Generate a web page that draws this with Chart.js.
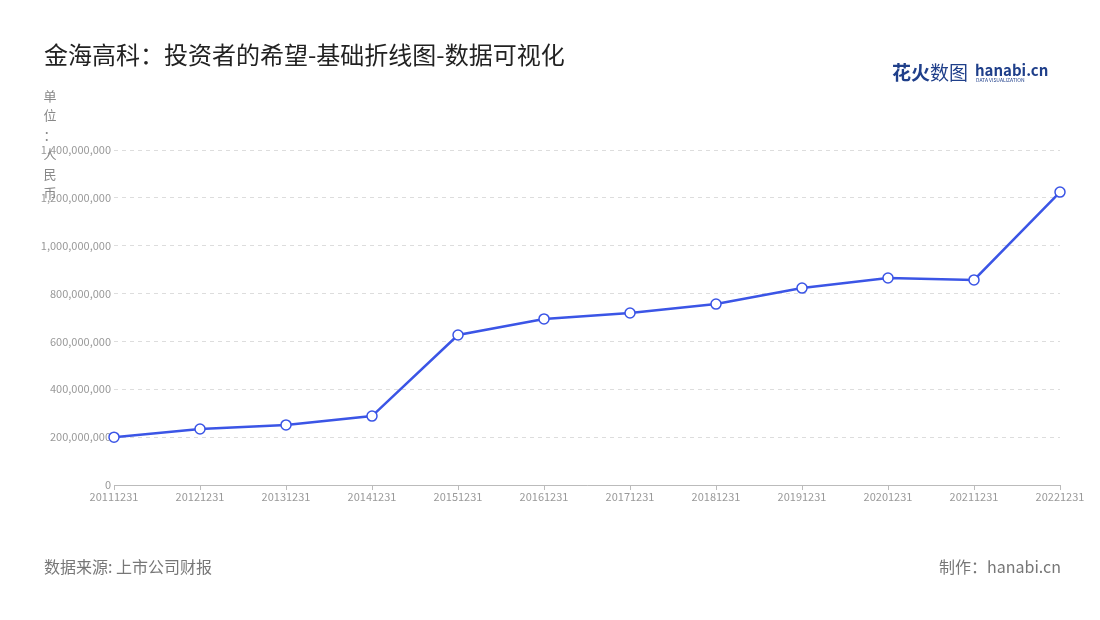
<!DOCTYPE html>
<html><head><meta charset="utf-8">
<script src="https://cdn.jsdelivr.net/npm/chart.js@4/dist/chart.umd.min.js"></script>
<style>html,body{margin:0;padding:0;background:#fff}#w{width:1100px;height:620px}</style>
</head><body><div id="w"><canvas id="c"></canvas></div>
<script>
const categories=["20111231","20121231","20131231","20141231","20151231","20161231","20171231","20181231","20191231","20201231","20211231","20221231"];
const values=[200000000,234000000,251000000,288000000,627000000,694000000,719000000,756000000,823000000,865000000,857000000,1224000000];
const titleText="金海高科：投资者的希望-基础折线图-数据可视化";
const unitChars=["单","位","：","人","民","币"];
const sourceText="数据来源: 上市公司财报";
const makerText="制作：hanabi.cn";
const F='"Noto Sans CJK SC","Noto Sans",sans-serif';
const deco={id:'deco',afterDraw(ch){const c=ch.ctx;c.save();
c.fillStyle='#222';c.font='24px '+F;c.textBaseline='middle';c.fillText(titleText,44,55);
c.fillStyle='#888';c.font='13px '+F;c.textAlign='center';
unitChars.forEach((t,i)=>c.fillText(t,50,96+i*19.5));
c.textAlign='left';c.font='16px '+F;c.fillStyle='#777';c.fillText(sourceText,44,567);
c.textAlign='right';c.fillText(makerText,1061,567);
c.font='bold 19px '+F;c.fillStyle='#1f3f8a';c.textAlign='left';c.fillText('花火',892,73);
c.font='19px '+F;c.fillText('数图',930,73);
c.font='bold 15px '+F;c.fillText('hanabi.cn',975,70);
c.font='5px '+F;c.fillText('DATA VISUALIZATION',976,80);
c.restore();}};
new Chart(document.getElementById('c'),{type:'line',
data:{labels:categories,datasets:[{data:values,borderColor:'#3b55e6',borderWidth:2.5,pointRadius:5,pointBorderWidth:1.5,pointBackgroundColor:'#fff',pointBorderColor:'#3b55e6',tension:0}]},
options:{responsive:true,maintainAspectRatio:false,animation:false,
layout:{padding:{top:150,right:40,left:0,bottom:0}},
plugins:{legend:{display:false},tooltip:{enabled:false}},
scales:{
x:{afterFit(s){s.height=135},offset:false,grid:{drawOnChartArea:false,drawTicks:true,tickLength:5,color:'#bbb'},border:{color:'#bbb'},
ticks:{color:'#999',font:{size:11,family:F},maxRotation:0,autoSkip:false,padding:0}},
y:{min:0,max:1400000000,afterFit(s){s.width=114},
ticks:{stepSize:200000000,color:'#999',font:{size:11,family:F},callback:v=>v.toLocaleString('en-US')},
grid:{color:'#ddd',drawTicks:false},border:{display:false,dash:[4,4]}}}},
plugins:[deco]});
</script></body></html>
